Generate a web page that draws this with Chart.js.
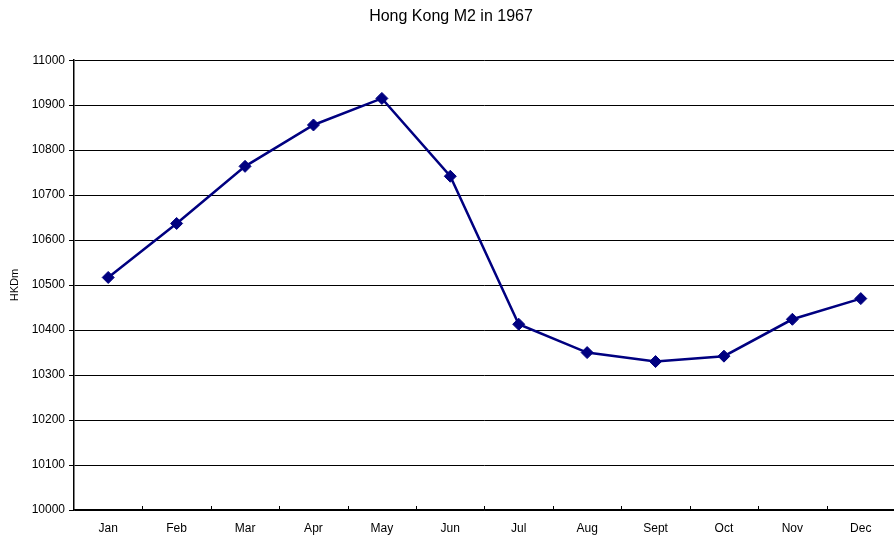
<!DOCTYPE html>
<html>
<head>
<meta charset="utf-8">
<script src="https://cdn.jsdelivr.net/npm/chart.js@4.4.0/dist/chart.umd.min.js"></script>
<style>
  html, body { margin: 0; padding: 0; background: #fff; overflow: hidden; }
  #wrap { width: 902px; height: 537px; }
</style>
</head>
<body>
<div id="wrap"><canvas id="m2Chart" width="902" height="537"></canvas></div>
<script>
const months = ['Jan', 'Feb', 'Mar', 'Apr', 'May', 'Jun', 'Jul', 'Aug', 'Sept', 'Oct', 'Nov', 'Dec'];
const m2Values = [10517, 10637, 10764, 10856, 10915, 10742, 10413, 10350, 10330, 10342, 10424, 10470];
const yMin = 10000;
const yMax = 11000;
const yStep = 100;

Chart.defaults.font.family = '"Liberation Sans", Arial, sans-serif';
Chart.defaults.color = '#000';

// petites graduations vers l'intérieur sur l'axe des x
const innerTicks = {
  id: 'innerTicks',
  afterDraw(chart) {
    const x = chart.scales.x;
    const ctx = chart.ctx;
    const bottom = chart.chartArea.bottom;
    ctx.save();
    ctx.strokeStyle = '#000';
    ctx.lineWidth = 1;
    for (let i = 1; i < months.length; i++) {
      const px = Math.round((x.getPixelForValue(i - 1) + x.getPixelForValue(i)) / 2) + 0.5;
      ctx.beginPath();
      ctx.moveTo(px, bottom);
      ctx.lineTo(px, bottom - 4);
      ctx.stroke();
    }
    ctx.restore();
  }
};

new Chart(document.getElementById('m2Chart').getContext('2d'), {
  type: 'line',
  data: {
    labels: months,
    datasets: [{
      label: 'M2',
      data: m2Values,
      borderColor: '#000080',
      backgroundColor: '#000080',
      borderWidth: 2.5,
      pointStyle: 'rectRot',
      pointRadius: 6,
      pointBorderWidth: 1,
      tension: 0
    }]
  },
  options: {
    responsive: false,
    animation: false,
    layout: { padding: { top: 0, right: 0, bottom: 0, left: 0 } },
    plugins: {
      legend: { display: false },
      tooltip: { enabled: false },
      title: {
        display: true,
        text: 'Hong Kong M2 in 1967',
        font: { size: 16, weight: 'normal' },
        color: '#000',
        padding: { top: 7, bottom: 34 }
      }
    },
    scales: {
      x: {
        offset: true,
        afterFit(scale) { scale.height = 27; },
        grid: { display: false, drawTicks: false, tickLength: 0 },
        border: { color: '#000', width: 1.5 },
        ticks: { font: { size: 12 }, padding: 11, maxRotation: 0 }
      },
      y: {
        min: yMin,
        max: yMax,
        afterFit(scale) { scale.width = 74; },
        ticks: { stepSize: yStep, font: { size: 12 }, padding: 4, callback: v => String(v) },
        grid: { color: '#000', lineWidth: 1, tickLength: 5 },
        border: { color: '#000', width: 1.5 },
        title: { display: true, text: 'HKDm', font: { size: 11 }, padding: { top: 8, bottom: 0 } }
      }
    }
  },
  plugins: [innerTicks]
});
</script>
</body>
</html>
